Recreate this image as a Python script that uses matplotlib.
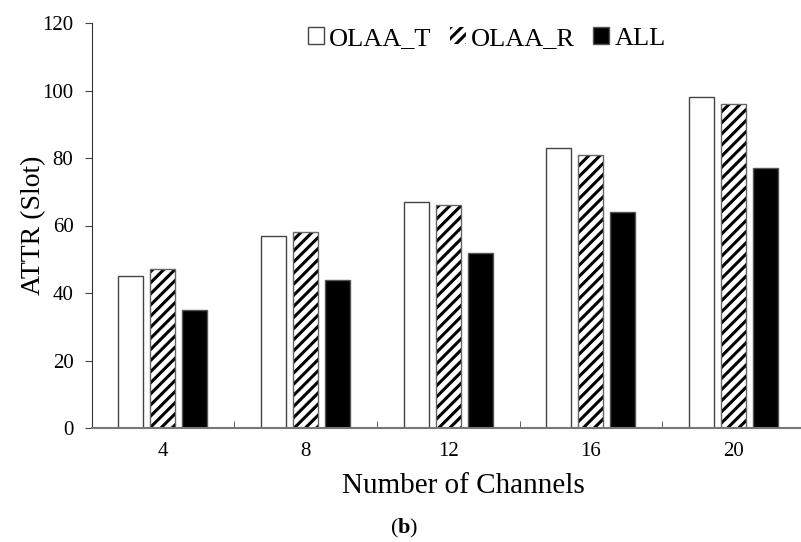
import numpy as np
import matplotlib
matplotlib.use("Agg")
import matplotlib.pyplot as plt

plt.rcParams['font.family'] = ['Liberation Serif', 'DejaVu Serif']
plt.rcParams['mathtext.fontset'] = 'custom'
plt.rcParams['mathtext.rm'] = 'Liberation Serif'
plt.rcParams['mathtext.bf'] = 'Liberation Serif:bold'
plt.rcParams['hatch.linewidth'] = 2.2

channels = ['4', '8', '12', '16', '20']
olaa_t = [45, 57, 67, 83, 98]
olaa_r = [47, 58, 66, 81, 96]
all_ch = [35, 44, 52, 64, 77]

fig = plt.figure(figsize=(8.01, 5.42), dpi=100)
ax = fig.add_axes([91.5 / 801, 1 - 428 / 542, (805 - 91.5) / 801, (428 - 23) / 542])

x = np.arange(len(channels))
w = 0.175
step = 0.224
ax.bar(x - step, olaa_t, w, color='white', edgecolor='#444444', linewidth=1.0, label='OLAA_T')
ax.bar(x, olaa_r, w, color='white', edgecolor='black', hatch='///', linewidth=0, label='OLAA_R')
ax.bar(x, olaa_r, w, color='none', edgecolor='#666666', linewidth=1.0)
ax.bar(x + step, all_ch, w, color='black', edgecolor='#555555', linewidth=1.0, label='ALL')

ax.set_xlim(-0.5, len(channels) - 0.5)
ax.set_ylim(0, 120)
ax.set_yticks(range(0, 121, 20))
ax.set_xticks(x)
ax.set_xticklabels(channels)
ax.set_xticks(np.arange(0.5, len(channels) - 0.5, 1), minor=True)
ax.tick_params(axis='x', which='major', length=0, pad=10, labelsize=15)
ax.tick_params(axis='x', which='minor', direction='in', length=5, color='#444444')
ax.tick_params(axis='y', direction='out', length=5, pad=8, labelsize=15, color='#444444')

for s in ['top', 'right']:
    ax.spines[s].set_visible(False)
ax.spines['left'].set_color('#333333')
ax.spines['bottom'].set_color('#777777')
ax.spines['bottom'].set_linewidth(1.5)

ax.set_ylabel('ATTR (Slot)', fontsize=20, labelpad=-3)
ax.set_xlabel('Number of Channels', fontsize=21)
ax.xaxis.set_label_coords(0.521, -0.112)

ax.legend(loc='upper center', bbox_to_anchor=(0.554, 1.015), ncol=3, frameon=False,
          fontsize=19, handlelength=0.6, handleheight=0.6, handletextpad=0.2,
          columnspacing=0.7, borderaxespad=0)

fig.text(404 / 801, 1 - 528 / 542, r'($\mathbf{b}$)', ha='center', va='center', fontsize=16)

fig.savefig('out.png', dpi=100)
